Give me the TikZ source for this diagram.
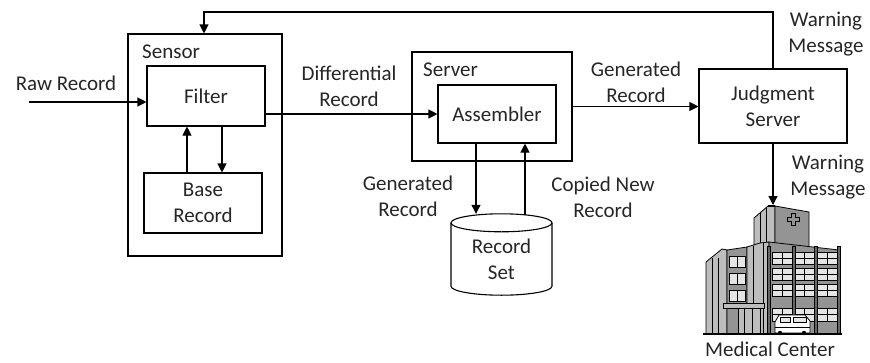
\documentclass[tikz,border=0pt]{standalone}
\usepackage{fontspec}
\setmainfont{Carlito}
\usetikzlibrary{arrows.meta,calc}

\definecolor{txt}{gray}{0.15}
\definecolor{hdark}{gray}{0.4}
\definecolor{hmid}{gray}{0.58}
\definecolor{hlight}{gray}{0.74}
\definecolor{hwin}{gray}{0.9}

\tikzset{
  box/.style={draw=black, line width=1.1pt, fill=white, inner sep=0pt, align=center, text=txt},
  lbl/.style={inner sep=0pt, align=center, text=txt},
  arr/.style={draw=black, line width=1.1pt, -{Triangle[length=9pt,width=9pt]}},
  plain/.style={draw=black, line width=1.1pt},
  hline/.style={draw=black, line width=0.7pt},
}

\begin{document}
\begin{tikzpicture}[x=1pt, y=-1pt, font=\fontsize{21}{26}\selectfont]
\fill[white] (0,0) rectangle (870,362);
\useasboundingbox (0,0) rectangle (870,362);

% ---- sensor ----
\node[box, minimum width=154pt, minimum height=222pt] (sensor) at (205,145) {};
\node[lbl, anchor=west] (sensorlbl) at (142,52) {Sensor};
\node[box, minimum width=118pt, minimum height=60pt] (filter) at (206,96) {Filter};
\node[box, minimum width=118pt, minimum height=60pt] (base) at (203,203) {Base\\Record};

% ---- server ----
\node[box, minimum width=160pt, minimum height=109pt] (server) at (492,106.5) {};
\node[lbl, anchor=west] (serverlbl) at (423,70) {Server};
\node[box, minimum width=118pt, minimum height=58pt] (asm) at (497,114) {Assembler};

% ---- record set (cylinder) ----
\node[inner sep=0pt, minimum width=101pt, minimum height=81pt, align=center, text=txt] (rset) at (501.5,254.5) {};
\coordinate (rtop) at ($(rset.north)+(0,9)$);
\coordinate (rbot) at ($(rset.south)+(0,-9)$);
\fill[white] ($(rtop)+(-50.5,0)$) -- ($(rbot)+(-50.5,0)$) arc[start angle=180, end angle=360, x radius=50.5pt, y radius=9pt] -- ($(rtop)+(50.5,0)$) -- cycle;
\draw[plain] ($(rtop)+(-50.5,0)$) -- ($(rbot)+(-50.5,0)$) arc[start angle=180, end angle=360, x radius=50.5pt, y radius=9pt] -- ($(rtop)+(50.5,0)$);
\draw[plain, fill=white] (rtop) ellipse[x radius=50.5pt, y radius=9pt];
\node[lbl] (rsettext) at ($(rset.center)+(0,5)$) {Record\\Set};

% ---- judgment server ----
\node[box, minimum width=148pt, minimum height=74pt] (judge) at (773,106) {Judgment\\Server};

% ---- medical center icon ----
\coordinate (hosp) at (773,205);
\begin{scope}[line width=0.8pt, draw=black]
  % tower
  \filldraw[fill=hlight] (754,218) -- (768,206) -- (775,206) -- (775,250) -- (754,250) -- cycle;
  \filldraw[fill=hmid] (775,206) -- (809,212) -- (809,252) -- (775,250) -- cycle;
  \draw[hline] (760,213) -- (760,250) (766,208) -- (766,250);
  \draw[line width=1.2pt] (768,206) -- (775,206);
  \draw[white, line width=0.9pt] (787,217) -- (791,217) -- (791,213) -- (795,213) -- (795,217) -- (799,217) -- (799,221) -- (795,221) -- (795,225) -- (791,225) -- (791,221) -- (787,221) -- cycle;
  \draw[hline] (787,217) -- (791,217) -- (791,213) -- (795,213) -- (795,217) -- (799,217) -- (799,221) -- (795,221) -- (795,225) -- (791,225) -- (791,221) -- (787,221) -- cycle;
  % left wing
  \filldraw[fill=hlight] (706,262) -- (722,249) -- (727,250) -- (727,334) -- (706,334) -- cycle;
  \filldraw[fill=hmid] (727,250) -- (747,247) -- (747,334) -- (727,334) -- cycle;
  \foreach \xx in {712,718} \draw[hline] (\xx,258) -- (\xx,334);
  % middle section
  \filldraw[fill=hlight] (747,247) -- (760,243) -- (769,242) -- (769,334) -- (747,334) -- cycle;
  \draw[hline] (753,246) -- (753,334) (763,243) -- (763,334);
  % main front
  \filldraw[fill=hmid] (769,242) -- (839,250) -- (839,334) -- (769,334) -- cycle;
  \foreach \xa/\xb in {772/792, 795/814, 817/837} {
    \foreach \ya/\yb in {252/264, 268/280, 284/296, 308/321} {
      \filldraw[fill=hwin, line width=0.6pt] (\xa,\ya) rectangle (\xb,\yb);
      \draw[line width=0.5pt] ({(\xa+\xb)/2},\ya) -- ({(\xa+\xb)/2},\yb);
      \draw[line width=0.4pt] (\xa,{(\ya+\yb)/2}) -- (\xb,{(\ya+\yb)/2});
    }
  }
  \foreach \xx in {769,793.5,815.5,839} \filldraw[fill=hdark] (\xx-1.5,246) rectangle (\xx+1.5,334);
  % left wing windows
  \foreach \ya/\yb in {256/267, 273/284, 290/301} {
    \filldraw[fill=hwin, line width=0.6pt] (729,\ya) rectangle (745,\yb);
    \draw[line width=0.5pt] (737,\ya) -- (737,\yb);
  }
  % entrance canopy
  \filldraw[fill=hlight] (738,308) rectangle (760,334);
  \draw[hline] (744,308) -- (744,334) (752,308) -- (752,334);
  \filldraw[fill=hlight] (723,303) rectangle (764,308);
  % ambulance
  \filldraw[fill=white] (775,322) -- (779,315) -- (805,315) -- (810,321) -- (810,333) -- (775,333) -- cycle;
  \filldraw[fill=hwin, line width=0.6pt] (780,317) rectangle (790,322);
  \filldraw[fill=hwin, line width=0.6pt] (793,317) rectangle (806,322);
  \draw[hline] (775,327) -- (810,327);
  \fill[black] (780,333) circle[radius=2.2pt] (804,333) circle[radius=2.2pt];
  % ground
  \draw[line width=1.2pt] (703,334) -- (842,334);
\end{scope}

% ---- connectors ----
\coordinate (rawstart) at (29,102);
\draw[arr] (rawstart) -- (rawstart -| filter.west);
\draw[arr] ([xshift=16pt]filter.south) -- ([xshift=19pt]base.north);
\draw[arr] ([xshift=-16pt]base.north) -- ([xshift=-19pt]filter.south);
\draw[arr] ([yshift=-18pt]filter.east) -- (asm.west);
\draw[arr] (server.east) -- (server.east -| judge.west);
\draw[arr] ([xshift=-21pt]asm.south) -- ([xshift=-21pt]asm.south |- rset.north);
\draw[arr] ([xshift=28pt,yshift=-1.5pt]asm.south |- rset.north) -- ([xshift=28pt]asm.south);
\coordinate (fb) at (204,12);
\draw[arr] (judge.north) |- (fb) -- (fb |- sensor.north);
\draw[arr] (judge.south) -- (hosp);

% ---- labels ----
\node[lbl] (rawlbl) at (66,83) {Raw Record};
\node[lbl] (difflbl) at (349,86) {Differential\\Record};
\node[lbl] (genlbl) at (636,82) {Generated\\Record};
\node[lbl] (warnlbl1) at (826,34) {Warning\\Message};
\node[lbl] (warnlbl2) at (828,177) {Warning\\Message};
\node[lbl] (gen2lbl) at (408,196) {Generated\\Record};
\node[lbl] (copylbl) at (603,197) {Copied New\\Record};
\node[lbl] (medlbl) at (770,349) {Medical Center};
\end{tikzpicture}
\end{document}
